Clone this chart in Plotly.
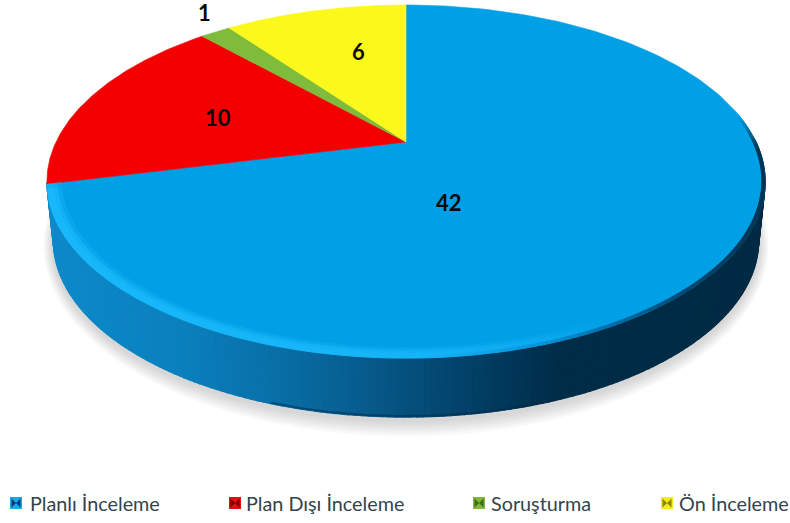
import numpy as np
import plotly.graph_objects as go

# Data
categories = ["Planlı İnceleme", "Plan Dışı İnceleme", "Soruşturma", "Ön İnceleme"]
values = [42, 10, 1, 6]

# Style
top_colors = ["#00A0E6", "#F50000", "#80BC3C", "#FBF91C"]
swatch_dark = ["#063F78", "#7A0000", "#3F6B1A", "#8A8400"]
swatch_light = ["#1DA7E8", "#E01010", "#7DB63A", "#F2EC18"]
label_xy = [(449, 202), (218, 117), (204, 12), (358, 51)]
legend_marker_x = [16, 235, 479, 667]
legend_text_x = [28, 244, 489, 677]
legend_y = 503

W, H = 790, 523
CX, CY = 406, 142      # pie apex on the page
SX, SY, K = 350, 167.7, 0.224   # perspective of the disc
DEPTH = 59
SHRINK = 0.982


def proj(theta, r=1.0):
    X, Y = r * np.sin(theta), r * np.cos(theta)
    d = 1 + K * Y
    return CX + SX * X / d, CY - SY * Y / d


def lower(x, y):
    return CX + (x - CX) * SHRINK, y + DEPTH


def mix(stops, v):
    xs = [s[0] for s in stops]
    return np.array([np.interp(v, xs, [s[1][i] for s in stops]) for i in range(3)])


def rgb(c):
    return "rgb(%d,%d,%d)" % tuple(int(round(a)) for a in c)


def poly(fig, xs, ys, color, lw=0.0):
    fig.add_trace(go.Scatter(
        x=list(xs), y=list(ys), mode="lines", fill="toself", fillcolor=color,
        line=dict(color=color, width=lw),
        hoverinfo="skip", showlegend=False))


fig = go.Figure()
total = sum(values)
edges = np.concatenate([[0], np.cumsum(values)]) / total * 2 * np.pi

# Soft shadow under the disc
t_all = np.linspace(0, 2 * np.pi, 240)
sx, sy = proj(t_all)
bx, by = lower(sx, sy)
for e in range(14, 0, -2):
    f = 1 + e / 500
    poly(fig, CX + (bx - CX) * f, by + (by - by.mean()) * (e / 170) + 3,
         "rgba(90,90,90,0.04)")

# Side wall, shaded across the page
wall_stops = [(40, (14, 138, 202)), (180, (10, 128, 190)), (300, (8, 106, 160)),
              (400, (5, 82, 128)), (480, (2, 62, 100)), (560, (0, 44, 72)),
              (770, (0, 42, 68))]
ts = np.linspace(np.pi / 2 - 0.02, edges[1] + 0.01, 190)
for a, b in zip(ts[:-1], ts[1:]):
    xa, ya = proj(a)
    xb, yb = proj(b)
    xc, yc = lower(xb, yb)
    xd, yd = lower(xa, ya)
    poly(fig, [xa, xb, xc, xd, xa], [ya, yb, yc, yd, ya],
         rgb(mix(wall_stops, (xa + xb) / 2)), lw=1.2)

# Dark lower edge of the wall
tb = np.linspace(np.pi * 0.88, np.pi * 1.1, 80)
xe, ye = lower(*proj(tb))
fig.add_trace(go.Scatter(x=xe, y=ye - 1, mode="lines",
                         line=dict(color="rgba(0,40,70,0.5)", width=2),
                         hoverinfo="skip", showlegend=False))

# Top face slices
for i in range(len(values)):
    t = np.linspace(edges[i], edges[i + 1], 200)
    x, y = proj(t)
    poly(fig, np.r_[CX, x, CX], np.r_[CY, y, CY], top_colors[i], lw=0.6)

# Bevelled rim on the large slice
base = np.array([0, 160, 230])
light_stops = [(40, (24, 184, 250)), (420, (24, 180, 248)), (540, (14, 170, 240)),
               (610, (0, 160, 230)), (770, (0, 160, 230))]
dark_stops = [(40, (24, 184, 250)), (420, (24, 180, 248)), (540, (8, 150, 220)),
              (610, (0, 110, 170)), (690, (0, 70, 110)), (770, (0, 50, 80))]
RIM_START = 1.4
ts = np.linspace(RIM_START, edges[1] - 0.002, 150)
rings = [(0.962, 0.972, 0.35, light_stops), (0.972, 0.982, 0.8, light_stops),
         (0.982, 0.991, 1.0, light_stops), (0.991, 1.0, 1.0, dark_stops)]
for r0, r1, w, stops in rings:
    for a, b in zip(ts[:-1], ts[1:]):
        xa, ya = proj(a, r1)
        xb, yb = proj(b, r1)
        xc, yc = proj(b, r0)
        xd, yd = proj(a, r0)
        g = mix(stops, (xa + xb) / 2)
        u = w * min(1.0, (a - RIM_START) / 0.2) * min(1.0, (edges[1] - a) / 0.05 + 0.3)
        poly(fig, [xa, xb, xc, xd, xa], [ya, yb, yc, yd, ya],
             rgb(base + (g - base) * u), lw=0.8)

# Value labels
annotations = [
    dict(x=lx, y=ly, text="<b>%d</b>" % v, showarrow=False, xref="x", yref="y",
         font=dict(family="Lato", size=22, color="#0a0a0a"))
    for (lx, ly), v in zip(label_xy, values)
]
# Legend text
annotations += [
    dict(x=tx, y=legend_y, text=c, showarrow=False, xref="x", yref="y", xanchor="left",
         font=dict(family="Lato", size=19.8, color="#33444c"))
    for tx, c in zip(legend_text_x, categories)
]

# Legend swatches
fig.add_trace(go.Scatter(x=legend_marker_x, y=[legend_y] * 4, mode="markers",
                         marker=dict(symbol="square", size=12, color=swatch_light),
                         hoverinfo="skip", showlegend=False))
fig.add_trace(go.Scatter(x=legend_marker_x, y=[legend_y] * 4, mode="markers",
                         marker=dict(symbol="bowtie", size=9, color=swatch_dark),
                         hoverinfo="skip", showlegend=False))

fig.update_layout(
    width=W, height=H, margin=dict(l=0, r=0, t=0, b=0),
    paper_bgcolor="white", plot_bgcolor="white", showlegend=False,
    annotations=annotations,
    xaxis=dict(range=[0, W], visible=False, fixedrange=True),
    yaxis=dict(range=[H, 0], visible=False, fixedrange=True),
)
fig.write_html("out.html", config=dict(displayModeBar=False),
               post_script="document.body.style.margin='0';document.body.style.overflow='hidden';")
